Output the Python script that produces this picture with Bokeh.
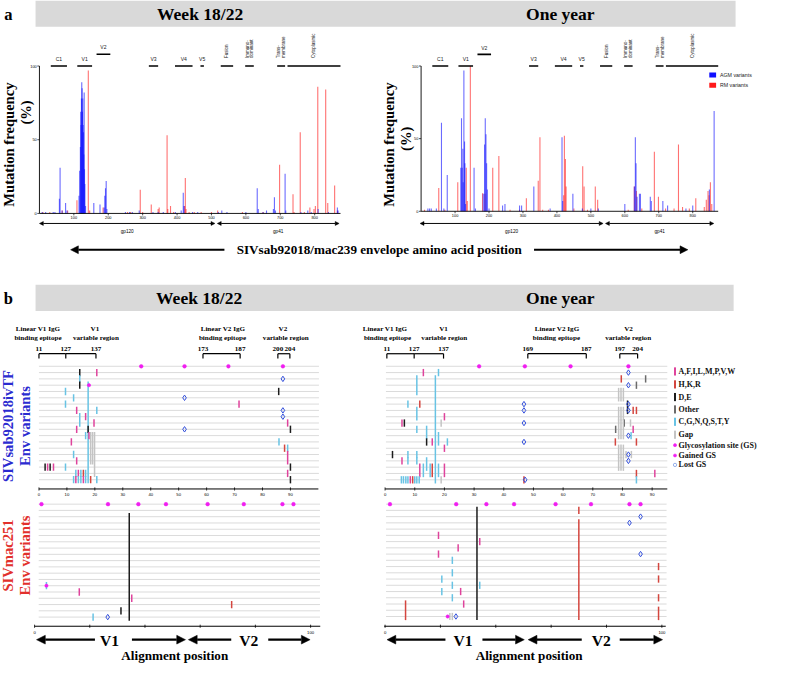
import math
from bokeh.plotting import figure
from bokeh.models import Range1d, Label, Arrow, NormalHead
from bokeh.embed import file_html
from bokeh.resources import INLINE

# ======================= DATA : panel a (mutation frequency, %) =======================
wk_agm_pos = [8, 18, 40, 45, 58, 60, 66, 76, 80, 115, 117, 119, 120, 121, 122, 123, 124, 125, 126, 127, 128,
              129, 130, 131, 132, 134, 158, 176, 188, 190, 192, 194, 196, 250, 262, 270, 290, 330, 345, 360,
              395, 412, 418, 420, 445, 460, 520, 530, 545, 600, 633, 636, 650, 660, 680, 683, 686, 714, 716,
              760, 780, 790, 810, 840, 866, 868]
wk_agm_val = [1, 1, 1, 1, 10, 31, 2, 7, 2, 12, 29, 45, 69, 60, 78, 89, 85, 69, 78, 60, 55,
              40, 82, 30, 20, 5, 7, 6, 4, 12, 17, 22, 3, 1, 1, 1, 2, 1, 1, 1,
              1, 2, 14, 5, 1, 1, 1, 2, 1, 1, 17, 3, 1, 2, 3, 11, 2, 27, 2,
              1, 2, 1, 3, 1, 4, 2]
wk_rm_pos = [10, 30, 66, 82, 109, 142, 146, 185, 256, 265, 293, 300, 325, 345, 348, 371, 373, 381, 390,
             422, 424, 426, 435, 450, 470, 500, 518, 590, 650, 698, 737, 740, 758, 770, 786, 798, 802, 809,
             832, 838, 858, 866]
wk_rm_val = [1, 1, 2, 2, 9, 97, 2, 4, 1, 1, 16, 1, 6, 3, 4, 53, 3, 5, 1,
             5, 24, 3, 1, 1, 1, 1, 2, 1, 1, 33, 13, 1, 55, 1, 4, 3, 5, 86,
             84, 7, 19, 2]
yr_agm_pos = [20, 25, 30, 45, 60, 67, 77, 117, 119, 121, 123, 124, 126, 128, 129, 131, 156, 160, 183, 187,
              189, 191, 193, 195, 200, 240, 247, 290, 296, 332, 380, 415, 417, 447, 475, 500, 522, 600, 628,
              631, 633, 636, 643, 646, 675, 678, 712, 726, 780, 800, 849, 863]
yr_agm_val = [2, 2, 2, 2, 61, 2, 25, 30, 64, 30, 43, 20, 97, 48, 33, 5, 30, 2, 12, 46,
              64, 53, 33, 15, 2, 4, 5, 4, 4, 17, 2, 51, 7, 12, 2, 2, 2, 5, 17,
              51, 33, 10, 12, 12, 10, 7, 7, 4, 2, 4, 15, 69]
yr_rm_pos = [10, 52, 70, 108, 133, 136, 145, 181, 188, 211, 229, 262, 290, 310, 345, 350, 358, 375, 420,
             422, 425, 427, 450, 476, 480, 490, 513, 520, 610, 628, 634, 650, 687, 699, 720, 745, 758, 770,
             790, 809, 834, 840, 845, 848, 852, 856]
yr_rm_val = [1, 16, 1, 20, 30, 7, 100, 12.5, 12, 30, 38, 1, 1, 9, 21, 51, 1, 1, 11,
             52, 36, 17, 2, 31, 17, 1, 17, 8, 1, 17, 14, 2, 41, 10, 2, 2, 46, 3,
             2, 9, 3, 8, 14, 11, 20, 5]

region_names = ["C1", "V1", "V2", "V3", "V4", "V5", "Fusion", "Immuno-|dominant", "Trans-|membrane", "Cytoplasmic"]
region_start = [33, 110, 166, 318, 394, 468, 527, 598, 691, 721]
region_end = [80, 153, 206, 345, 445, 478, 563, 623, 714, 875]
region_raised = [0, 0, 1, 0, 0, 0, 0, 0, 0, 0]
region_rotated = [0, 0, 0, 0, 0, 0, 1, 1, 1, 1]

a_xticks = [100, 200, 300, 400, 500, 600, 700, 800]
a_yticks = [0, 50, 100]
gp_names = ["gp120", "gp41"]
wk_gp_start = [0, 517]
wk_gp_end = [510, 871]
yr_gp_start = [-3, 543]
yr_gp_end = [536, 862]
series_names = ["AGM variants", "RM variants"]

# ======================= DATA : panel b (alignment) =======================
cat_codes = ["M", "R", "K", "O", "C", "G"]
cat_names = ["A,F,I,L,M,P,V,W", "H,K,R", "D,E", "Other", "C,G,N,Q,S,T,Y", "Gap"]
cat_colors = ["#df439c", "#d4463f", "#1c1c1c", "#6b6b6b", "#68c3e4", "#c4c4c4"]

# Week 18/22, SIVsab92018ivTF
wk_sab_x = [14.6, 20.7, 14.6, 14.6, 17.6, 85.8, 9.5, 12.4, 9.5, 71.6, 13.5, 20.7, 14.6, 16.7, 19.7, 89.0, 13.5,
            17.6, 90.0, 16.7, 17.9, 18.5, 19.2, 19.9, 11.6, 85.9, 87.9, 89.0, 12.4, 89.0, 13.5, 2.2, 3.1, 4.0,
            5.2, 9.5, 90.0, 13.2, 14.1, 15.0, 15.9, 16.7, 89.0, 12.4, 13.2, 14.1, 15.0, 15.9, 16.7, 18.5, 20.7, 90.0]
wk_sab_r0 = [1, 1, 2, 3, 3, 4, 4, 5, 6, 6, 7, 7, 8, 8, 9, 9, 10, 10, 10, 11, 11, 11, 11, 11, 12, 12, 13, 13, 14,
             14, 15, 16, 16, 16, 16, 16, 16, 17, 17, 17, 17, 17, 17, 18, 18, 18, 18, 18, 18, 18, 18, 18]
wk_sab_r1 = [1, 1, 2, 3, 18, 4, 4, 5, 6, 6, 7, 7, 9, 8, 9, 9, 10, 10, 10, 11, 11, 15, 15, 17, 12, 12, 13, 13, 14,
             15, 15, 16, 16, 16, 16, 16, 16, 17, 17, 17, 17, 17, 17, 18, 18, 18, 18, 18, 18, 18, 18, 18]
wk_sab_cat = list("KMCKC" "KCCCM" "MCCMM" "MMKKC" "MGGGM" "CRCCM" "MKMKM" "CKCMC" "RCMCM" "CCMCR" "CK")
wk_sab_gs = [36.6, 52.1, 67.8, 87.3]
wk_sab_gain_x = [17.9]
wk_sab_gain_r = [3]
wk_sab_lost_x = [87.3, 52.1, 87.3, 87.3, 52.1]
wk_sab_lost_r = [2, 5, 7, 8, 10]

# One year, SIVsab92018ivTF
yr_sab_x = [12.9, 18.0, 10.7, 16.95, 79.6, 87.8, 84.7, 78.7, 79.5, 80.3, 7.7, 11.7, 81.7, 10.7, 83.6, 84.7, 78.7,
            79.5, 80.3, 20.0, 5.7, 6.5, 18.9, 80.6, 82.7, 10.7, 77.7, 83.6, 78.7, 79.5, 80.3, 14.0, 82.9, 14.0,
            15.9, 18.0, 21.0, 77.6, 84.7, 20.0, 78.7, 79.5, 80.3, 2.5, 7.7, 10.7, 81.2, 83.0, 5.7, 7.7, 10.7,
            14.0, 78.7, 79.5, 80.3, 11.7, 12.9, 15.2, 15.9, 18.0, 20.0, 84.7, 90.9, 5.5, 6.2, 7.0, 7.7, 8.5,
            9.3, 10.0, 10.7, 11.5, 18.9, 46.8, 84.7]
yr_sab_r0 = [1, 1, 2, 2, 2, 2, 3, 4, 4, 4, 6, 6, 6, 7, 7, 7, 7, 7, 7, 8, 9, 9, 9, 9, 9, 10, 10, 10, 9, 9, 9, 10,
             11, 12, 12, 11, 12, 12, 12, 13, 13, 13, 13, 14, 14, 14, 14, 14, 15, 15, 15, 15, 15, 15, 15, 16, 16,
             16, 16, 16, 16, 17, 17, 18, 18, 18, 18, 18, 18, 18, 18, 18, 18, 18, 18]
yr_sab_r1 = [1, 1, 4, 18, 2, 2, 3, 5, 5, 5, 6, 6, 7, 8, 7, 7, 8, 8, 8, 8, 9, 9, 9, 9, 9, 10, 10, 10, 11, 11, 11,
             11, 11, 12, 12, 12, 12, 12, 12, 13, 14, 14, 14, 14, 14, 14, 14, 14, 15, 15, 15, 16, 16, 16, 16, 17,
             17, 17, 17, 17, 17, 17, 17, 18, 18, 18, 18, 18, 18, 18, 18, 18, 18, 18, 18]
yr_sab_cat = list("MCCCR" "OOGGG" "CRKCR" "RGGGM" "MKGOG" "COMGG" "GCCKM" "CCRRM" "GGGKC" "CGGMC"
                  "CCGGG" "MCCRC" "MRMCC" "CCMRC" "CCGRC")
yr_sab_gs = [31.7, 47.1, 62.5, 82.0]
yr_sab_gain_x = []
yr_sab_gain_r = []
yr_sab_lost_x = [82.0, 82.0, 82.0, 82.0, 82.0, 82.0, 82.0, 46.8, 46.8, 46.8, 46.8, 47.2]
yr_sab_lost_r = [1, 3, 6, 7, 11, 14, 15, 6, 7, 9, 12, 18]

# Week 18/22, SIVmac251
wk_mac_x = [34.3, 4.3, 16.2, 35.2, 71.4, 31.3, 21.2]
wk_mac_r0 = [2, 13, 14, 15, 16, 17, 18]
wk_mac_r1 = [18, 13, 14, 15, 16, 17, 18]
wk_mac_cat = list("KCMMRKC")
wk_mac_gs = [2.5, 26.6, 37.6, 47.6, 62.7, 75.8, 89.8, 93.8]
wk_mac_gain_x = [4.3]
wk_mac_gain_r = [13]
wk_mac_lost_x = [26.5]
wk_mac_lost_r = [18]

# One year, SIVmac251
yr_mac_x = [33.2, 70.0, 70.0, 19.3, 19.3, 34.2, 26.4, 24.3, 24.3, 24.3, 24.3, 20.5, 20.5, 34.2, 27.3, 28.4,
            7.4, 98.8, 98.8, 98.8, 98.8, 23.4, 24.3]
yr_mac_r0 = [1, 1, 3, 5, 8, 6, 7, 9, 11, 13, 15, 12, 14, 13, 14, 16, 16, 10, 12, 15, 17, 18, 18]
yr_mac_r1 = [18, 1, 18, 5, 8, 6, 7, 9, 11, 13, 15, 12, 14, 13, 14, 16, 18, 10, 12, 15, 18, 18, 18]
yr_mac_cat = list("KRRMMMMCCCCCCCMMRRRRRGG")
yr_mac_gs = [1.76, 25.7, 36.6, 46.6, 61.6, 74.4, 88.3, 92.3]
yr_mac_gain_x = [22.6]
yr_mac_gain_r = [18]
yr_mac_lost_x = [92.3, 88.3, 92.3, 25.6]
yr_mac_lost_r = [2, 3, 8, 18]

wk_epi_nums = ["11", "127", "137", "173", "187", "200", "204"]
wk_epi_pos = [0.0, 9.6, 20.4, 58.7, 72.0, 85.5, 89.8]
yr_epi_nums = ["11", "127", "137", "169", "187", "197", "204"]
yr_epi_pos = [0.6, 9.8, 19.7, 48.1, 67.8, 79.1, 85.1]
epi_pairs = [(0, 1), (1, 2), (3, 4), (5, 6)]

ul_ticks = [0, 10, 20, 30, 40, 50, 60, 70, 80, 90]
ll_ticks = [0, 20, 40, 60, 80, 100]
ll_tick_labels = [0, 100]
n_rows = 18

# ======================= FIGURE =======================
W, H = 764, 664
S = H / 682.0
WREF = W / S
HREF = 682.0
SERIF = "Liberation Serif"
SANS = "Liberation Sans"
BLUE_T = "#2b2bd0"
RED_T = "#e2302c"
GS_C = "#f01ef0"
LOST_C = "#3450dc"
CAT = dict(zip(cat_codes, cat_colors))

p = figure(width=W, height=H, output_backend="svg", toolbar_location=None,
           x_range=Range1d(0, WREF), y_range=Range1d(HREF, 0),
           x_axis_location=None, y_axis_location=None,
           min_border=0, min_border_left=0, min_border_right=0, min_border_top=0, min_border_bottom=0,
           outline_line_color=None, background_fill_color="white", border_fill_color="white")
for g in p.grid:
    g.visible = False
    g.grid_line_color = None


def add_xr(name, v0, v1, p0, p1):
    k = (v1 - v0) / (p1 - p0)
    p.extra_x_ranges[name] = Range1d(start=v0 - p0 * k, end=v0 + (WREF - p0) * k)


def add_yr(name, v0, v1, q0, q1):
    k = (v1 - v0) / (q1 - q0)
    p.extra_y_ranges[name] = Range1d(start=v0 + (HREF - q0) * k, end=v0 - q0 * k)


def lab(x, y, text, size, font=SERIF, bold=True, color="#000000", align="center",
        baseline="middle", angle=0.0, xr="default", yr="default"):
    p.add_layout(Label(x=x, y=y, text=text, text_font=font, text_font_size="%.2fpx" % (size * S),
                       text_font_style="bold" if bold else "normal", text_color=color,
                       text_align=align, text_baseline=baseline, angle=angle,
                       x_range_name=xr, y_range_name=yr))


def arrow(x0, y0, x1, y1, size, width, both=False, xr="default", yr="default"):
    def head():
        return NormalHead(size=size * S, fill_color="black", line_color="black", line_width=0.5)
    p.add_layout(Arrow(x_start=x0, y_start=y0, x_end=x1, y_end=y1, end=head(),
                       start=head() if both else None, line_width=width * S, line_color="black",
                       x_range_name=xr, y_range_name=yr))


# ---------------- headers ----------------
p.quad(left=[36, 36], right=[755, 753], top=[0, 292], bottom=[27, 319], fill_color="#d9d9d9", line_color=None)
lab(8, 14, "a", 17)
lab(205, 13.5, "Week 18/22", 18)
lab(575, 13.5, "One year", 18)
lab(8, 306, "b", 17)
lab(204, 306, "Week 18/22", 18)
lab(575, 306, "One year", 18)


# ---------------- panel a charts ----------------
def chart_a(key, x0, x800, y0, y100, agm_p, agm_v, rm_p, rm_v, gp_s, gp_e, tx, pct_y, legend):
    add_xr(key, 0, 800, x0, x800)
    add_yr(key, 0, 100, y0, y100)
    ux = (x800 - x0) / 800.0
    uy = (y0 - y100) / 100.0

    def vy(q):
        return (y0 - q) / uy

    kw = dict(x_range_name=key, y_range_name=key)
    p.vbar(x=rm_p, top=rm_v, bottom=0, width=3.2, fill_color="#ff1a1a", fill_alpha=0.62, line_color=None, **kw)
    p.vbar(x=agm_p, top=agm_v, bottom=0, width=3.2, fill_color="#1010ff", fill_alpha=0.62, line_color=None, **kw)
    xmax = 875
    p.segment(x0=[0, 0], y0=[0, 0], x1=[0, xmax], y1=[100, 0], line_color="black", line_width=0.9, **kw)
    p.segment(x0=[-2.2 / ux] * len(a_yticks), x1=[0] * len(a_yticks), y0=a_yticks, y1=a_yticks,
              line_color="black", line_width=0.7, **kw)
    for t in a_yticks:
        lab(-2.8 / ux, t, str(t), 4, SANS, False, align="right", xr=key, yr=key)
    p.segment(x0=a_xticks, x1=a_xticks, y0=[0] * len(a_xticks), y1=[vy(y0 + 2)] * len(a_xticks),
              line_color="black", line_width=0.7, **kw)
    for t in a_xticks:
        lab(t, vy(y0 + 4.6), str(t), 4, SANS, False, xr=key, yr=key)
    # region bars and names
    lvl = [108 if r else 100 for r in region_raised]
    p.segment(x0=region_start, x1=region_end, y0=lvl, y1=lvl, line_color="black", line_width=1.7, **kw)
    for name, s, e, lv, rot in zip(region_names, region_start, region_end, lvl, region_rotated):
        mid = (s + e) / 2.0
        if not rot:
            lab(mid, lv + 4.6, name, 5.2, SANS, False, color="#222222", xr=key, yr=key)
        else:
            lines = name.split("|")
            n = len(lines)
            for j, ln in enumerate(lines):
                dx = (j - (n - 1) / 2.0) * 5.0 / ux
                lab(mid + dx, vy(59), ln, 4.6, SANS, False, color="#222222", align="left",
                    angle=math.pi / 2, xr=key, yr=key)
    # gp120 / gp41 arrows
    for name, s, e in zip(gp_names, gp_s, gp_e):
        arrow(s, 229, e, 229, 4, 1.0, both=True, xr=key)
        lab((s + e) / 2.0, 237.5, name, 4.8, SANS, False, xr=key)
    # axis title
    lab(tx, 148, "Mutation frequency", 15, angle=math.pi / 2)
    lab(tx + 17, pct_y, "(%)", 15, angle=math.pi / 2)
    if legend:
        p.rect(x=[731.5, 731.5], y=[76.5, 87], width=7, height=5, fill_color=["#1010ff", "#ff1a1a"],
               line_color=None)
        for nm, yy in zip(series_names, [76.5, 87]):
            lab(739, yy, nm, 5.4, SANS, False, color="#222222", align="left")


chart_a("wk", 40, 322.7, 218.7, 67.3, wk_agm_pos, wk_agm_val, wk_rm_pos, wk_rm_val,
        wk_gp_start, wk_gp_end, 9, 115, False)
chart_a("yr", 432, 711, 216.5, 67.3, yr_agm_pos, yr_agm_val, yr_rm_pos, yr_rm_val,
        yr_gp_start, yr_gp_end, 399, 142, True)

lab(389, 256, "SIVsab92018/mac239 envelope amino acid position", 13.5)
arrow(230, 256, 72, 256, 8, 2.2)
arrow(548, 256, 706, 256, 8, 2.2)


# ---------------- panel b ----------------
def panel_b(key, xa0, xa100, q0, q18, axis_px, mk_x, mk_r0, mk_r1, mk_c, gs_x, gain_x, gain_r,
            lost_x, lost_r, row_span, axis_span, ticks, tick_labels):
    add_xr(key, 0, 100, xa0, xa100)
    add_yr(key, 0, n_rows, q0, q18)
    uy = (q18 - q0) / float(n_rows)
    kw = dict(x_range_name=key, y_range_name=key)
    rows = list(range(n_rows + 1))
    p.segment(x0=[row_span[0]] * len(rows), x1=[row_span[1]] * len(rows), y0=rows, y1=rows,
              line_color="#d2d2d2", line_width=0.8, **kw)
    p.segment(x0=mk_x, x1=mk_x, y0=[r - 0.58 for r in mk_r0], y1=[r + 0.58 for r in mk_r1],
              line_color=[CAT[c] for c in mk_c], line_width=1.5, **kw)
    p.scatter(x=gs_x, y=[0] * len(gs_x), size=3.8 * S, fill_color=GS_C, line_color=GS_C, line_width=0.5, **kw)
    if gain_x:
        p.scatter(x=gain_x, y=gain_r, size=3.4 * S, fill_color=GS_C, line_color=GS_C, line_width=0.5, **kw)
    p.scatter(x=lost_x, y=lost_r, marker="diamond", size=5.6 * S, fill_color="white", fill_alpha=0.0,
              line_color=LOST_C, line_width=1.0, **kw)
    ya = (axis_px - q0) / uy
    p.segment(x0=[axis_span[0]], x1=[axis_span[1]], y0=[ya], y1=[ya], line_color="black", line_width=1.0, **kw)
    p.segment(x0=ticks, x1=ticks, y0=[ya - 1.6 / uy] * len(ticks), y1=[ya + 1.6 / uy] * len(ticks),
              line_color="black", line_width=0.8, **kw)
    for t in tick_labels:
        lab(t, axis_px + 6, str(t), 4.3, SANS, False, xr=key)


def brackets(key, nums, pos):
    for t, x in zip(nums, pos):
        lab(x, 357.7, t, 7.3, xr=key)
    p.segment(x0=[pos[a] for a, b in epi_pairs], x1=[pos[b] for a, b in epi_pairs],
              y0=[362.8] * len(epi_pairs), y1=[362.8] * len(epi_pairs),
              line_color="black", line_width=1.2, x_range_name=key)
    p.segment(x0=pos, x1=pos, y0=[362.8] * len(pos), y1=[367.8] * len(pos),
              line_color="black", line_width=1.2, x_range_name=key)


panel_b("uls", 39.5, 326.5, 375.7, 492.2, 501.7, wk_sab_x, wk_sab_r0, wk_sab_r1, wk_sab_cat, wk_sab_gs,
        wk_sab_gain_x, wk_sab_gain_r, wk_sab_lost_x, wk_sab_lost_r, (0, 100.2), (0, 100), ul_ticks, ul_ticks)
panel_b("urs", 395, 699.8, 375.7, 492.3, 501.7, yr_sab_x, yr_sab_r0, yr_sab_r1, yr_sab_cat, yr_sab_gs,
        yr_sab_gain_x, yr_sab_gain_r, yr_sab_lost_x, yr_sab_lost_r, (0.3, 95.1), (0, 95.1), ul_ticks, ul_ticks)
panel_b("llm", 35, 318.5, 517.3, 633.3, 642.7, wk_mac_x, wk_mac_r0, wk_mac_r1, wk_mac_cat, wk_mac_gs,
        wk_mac_gain_x, wk_mac_gain_r, wk_mac_lost_x, wk_mac_lost_r, (1.5, 103.4), (0, 103.5), ll_ticks,
        ll_tick_labels)
panel_b("lrm", 395, 679.3, 517.3, 632.7, 642.7, yr_mac_x, yr_mac_r0, yr_mac_r1, yr_mac_cat, yr_mac_gs,
        yr_mac_gain_x, yr_mac_gain_r, yr_mac_lost_x, yr_mac_lost_r, (0.35, 101.7), (-0.3, 101.4), ll_ticks,
        ll_tick_labels)

brackets("uls", wk_epi_nums, wk_epi_pos)
brackets("urs", yr_epi_nums, yr_epi_pos)

# header texts above the alignment panels
for txt, x, y in [("Linear V1 IgG", 38.5, 337), ("binding epitope", 38.5, 347), ("V1", 97, 337),
                  ("variable region", 98, 347), ("Linear V2 IgG", 228.5, 337), ("binding epitope", 228, 347),
                  ("V2", 290, 337), ("variable region", 293, 347),
                  ("Linear V1 IgG", 395, 337), ("binding epitope", 397.5, 347), ("V1", 455, 337),
                  ("variable region", 455.8, 347), ("Linear V2 IgG", 571.7, 337), ("binding epitope", 571, 347),
                  ("V2", 645, 337), ("variable region", 644.7, 347)]:
    lab(x, y, txt, 7.3)

# side titles
lab(8, 437, "SIVsab92018ivTF", 15, color=BLUE_T, angle=math.pi / 2)
lab(25, 437, "Env variants", 15, color=BLUE_T, angle=math.pi / 2)
lab(8, 570, "SIVmac251", 15, color=RED_T, angle=math.pi / 2)
lab(25, 570, "Env variants", 15, color=RED_T, angle=math.pi / 2)

# V1 / V2 arrows and x titles
for (a0, a1), (b0, b1), (c0, c1), (d0, d1), v1x, v2x, cx in [
        ((97, 37), (135, 190), (237, 193), (275, 318), 112, 255, 179),
        ((457, 397), (495, 538), (597, 542), (636, 680), 475, 617, 543)]:
    for s0, s1 in [(a0, a1), (b0, b1), (c0, c1), (d0, d1)]:
        arrow(s0, 656.5, s1, 656.5, 9, 2.4)
    lab(v1x, 657, "V1", 16)
    lab(v2x, 657, "V2", 16)
    lab(cx, 673, "Alignment position", 13.5)

# legend of panel b
leg_y = [381, 394.3, 407.3, 420, 432.7, 446, 456.7, 467.3, 477]
p.segment(x0=[692.8] * 6, x1=[692.8] * 6, y0=[y - 4.2 for y in leg_y[:6]], y1=[y + 4.2 for y in leg_y[:6]],
          line_color=cat_colors, line_width=2.0)
p.scatter(x=[692.8, 692.8], y=leg_y[6:8], size=3.2 * S, fill_color=GS_C, line_color=GS_C, line_width=0.5)
p.scatter(x=[692.8], y=leg_y[8:9], size=3.4 * S, fill_color="white", line_color="#8aa6e6", line_width=0.9)
for t, y in zip(cat_names + ["Glycosylation site (GS)", "Gained GS", "Lost GS"], leg_y):
    lab(696.5, y, t, 8.2, align="left", color="#111111")

open("out.html", "w").write(file_html(p, INLINE))
